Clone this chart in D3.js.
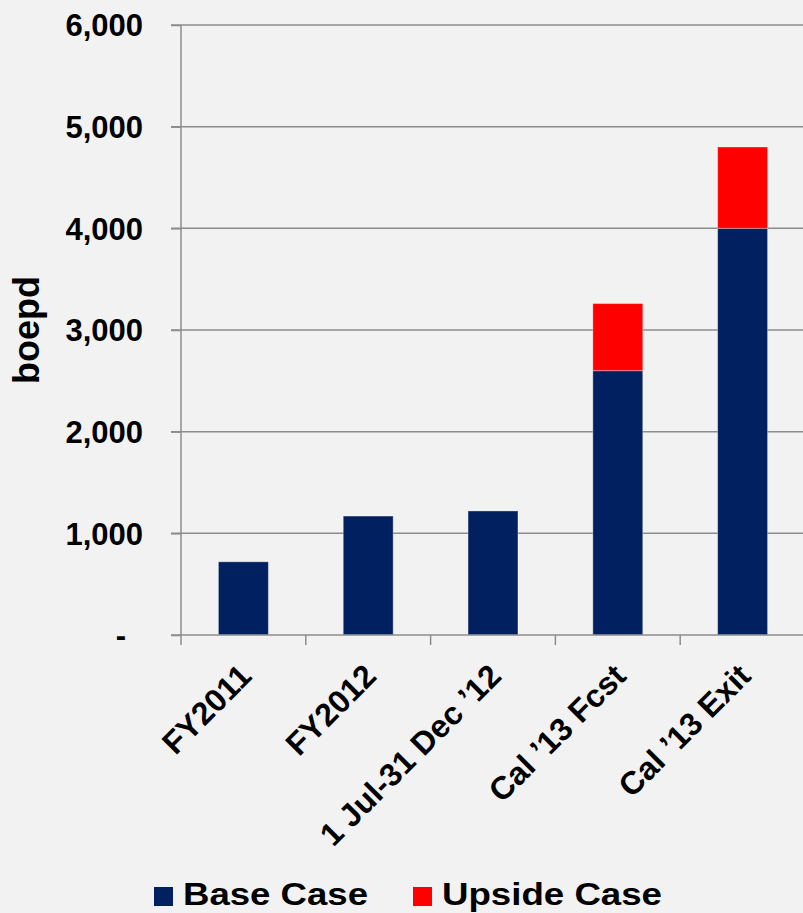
<!DOCTYPE html>
<html>
<head>
<meta charset="utf-8">
<script src="https://cdn.jsdelivr.net/npm/d3@7"></script>
<style>
  html, body { margin: 0; padding: 0; background: #f2f2f2; }
  svg text { font-family: "Liberation Sans", Arial, sans-serif; font-weight: bold; fill: #000; }
</style>
</head>
<body>
<div id="chart"></div>
<script>
const categories = ["FY2011", "FY2012", "1 Jul-31 Dec \u201912", "Cal \u201913 Fcst", "Cal \u201913 Exit"];
const baseCase = [720, 1170, 1220, 2600, 4000];
const upsideCase = [0, 0, 0, 660, 800];
const yTicks = [0, 1000, 2000, 3000, 4000, 5000, 6000];
const seriesNames = ["Base Case", "Upside Case"];
const seriesColors = ["#002060", "#ff0000"];

const width = 803, height = 913;
const margin = {top: 25, left: 181, right: -2, bottom: 278};

var svg = d3.select("#chart").append("svg")
    .attr("width", width)
    .attr("height", height);

svg.append("rect").attr("width", width).attr("height", height).attr("fill", "#f2f2f2");

var x = d3.scaleBand()
    .domain(categories)
    .range([margin.left, width - margin.right])
    .paddingInner(0.6)
    .paddingOuter(0.3);

var y = d3.scaleLinear()
    .domain([0, 6000])
    .range([height - margin.bottom, margin.top]);

// gridlines
svg.append("g")
    .selectAll("line")
    .data(yTicks.slice(1))
    .enter().append("line")
    .attr("x1", margin.left - 10)
    .attr("x2", width)
    .attr("y1", d => y(d))
    .attr("y2", d => y(d))
    .attr("stroke", "#8c8c8c")
    .attr("stroke-width", 1.5);

// stacked bars
var rows = categories.map((c, i) => ({cat: c, base: baseCase[i], upside: upsideCase[i]}));
var stack = d3.stack().keys(["base", "upside"])(rows);

svg.append("g")
    .selectAll("g")
    .data(stack)
    .enter().append("g")
    .attr("fill", (d, i) => seriesColors[i])
    .selectAll("rect")
    .data(d => d.filter(e => e[1] > e[0]))
    .enter().append("rect")
    .attr("x", d => x(d.data.cat))
    .attr("width", x.bandwidth())
    .attr("y", d => y(d[1]))
    .attr("height", d => y(d[0]) - y(d[1]))
    .attr("stroke", "rgba(255,255,255,0.35)")
    .attr("stroke-width", 1);

// y axis
var yAxis = svg.append("g")
    .attr("transform", "translate(" + margin.left + ",0)")
    .call(d3.axisLeft(y)
        .tickValues(yTicks)
        .tickSize(10)
        .tickPadding(28)
        .tickFormat(d => d === 0 ? "-" : d3.format(",")(d)));
yAxis.select(".domain").remove();
yAxis.selectAll(".tick line").attr("stroke", "#8c8c8c").attr("stroke-width", 1.5);
yAxis.selectAll(".tick text")
    .style("font-size", "31px")
    .attr("dy", "0.35em")
    .attr("dx", d => d === 0 ? -17 : 0);

svg.append("line")
    .attr("x1", margin.left).attr("x2", margin.left)
    .attr("y1", margin.top).attr("y2", y(0) + 10)
    .attr("stroke", "#8c8c8c").attr("stroke-width", 1.5);

// x axis
svg.append("line")
    .attr("x1", margin.left - 10).attr("x2", width)
    .attr("y1", y(0)).attr("y2", y(0))
    .attr("stroke", "#8c8c8c").attr("stroke-width", 1.5);

// category boundary ticks
var step = x.step();
svg.append("g")
    .selectAll("line")
    .data(categories.slice(1))
    .enter().append("line")
    .attr("x1", d => x(d) + x.bandwidth() / 2 - step / 2)
    .attr("x2", d => x(d) + x.bandwidth() / 2 - step / 2)
    .attr("y1", y(0))
    .attr("y2", y(0) + 10)
    .attr("stroke", "#8c8c8c").attr("stroke-width", 1.5);

svg.append("g")
    .selectAll("text")
    .data(categories)
    .enter().append("text")
    .attr("text-anchor", "end")
    .style("font-size", "32px")
    .attr("transform", d => "translate(" + (x(d) + x.bandwidth() / 2 + 10) + "," + (y(0) + 43) + ") rotate(-45)")
    .text(d => d);

// y label
svg.append("text")
    .attr("text-anchor", "middle")
    .style("font-size", "36px")
    .attr("transform", "translate(39," + ((y(0) + margin.top) / 2) + ") rotate(-90)")
    .text("boepd");

// legend
var legendX = [154, 413];
var legendLen = [185, 220];
var legend = svg.append("g")
    .selectAll("g")
    .data(seriesNames)
    .enter().append("g")
    .attr("transform", (d, i) => "translate(" + legendX[i] + ",0)");
legend.append("rect")
    .attr("x", 0).attr("y", 887)
    .attr("width", 19).attr("height", 19)
    .attr("fill", (d, i) => seriesColors[i]);
legend.append("text")
    .attr("x", 29).attr("y", 905)
    .style("font-size", "31px")
    .attr("textLength", (d, i) => legendLen[i])
    .attr("lengthAdjust", "spacingAndGlyphs")
    .text(d => d);
</script>
</body>
</html>
